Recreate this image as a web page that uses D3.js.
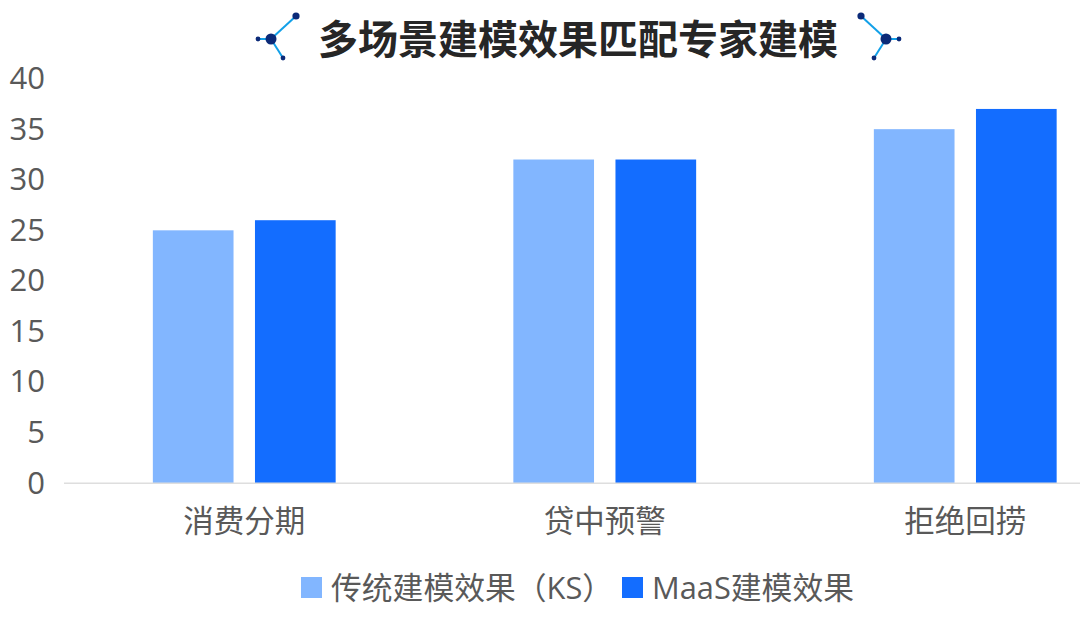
<!DOCTYPE html>
<html>
<head>
<meta charset="utf-8">
<script src="https://cdn.jsdelivr.net/npm/d3@7"></script>
<style>
  body { margin: 0; background: #fff; }
  text { font-family: "Open Sans", "Noto Sans CJK SC", sans-serif; }
</style>
</head>
<body>
<div id="chart"></div>
<script>
// data
const categories = ["消费分期", "贷中预警", "拒绝回捞"];
const seriesNames = ["传统建模效果（KS）", "MaaS建模效果"];
const traditional = [25, 32, 35];
const maas = [26, 32, 37];
const yTicks = [0, 5, 10, 15, 20, 25, 30, 35, 40];
const chartTitle = "多场景建模效果匹配专家建模";

const colors = ["#82b6ff", "#136dff"];
const textColor = "#595959";

const width = 1080,
  height = 622;

const svg = d3
  .select("#chart")
  .append("svg")
  .attr("width", width)
  .attr("height", height)
  .style("display", "block");

// scales
const x0 = d3.scaleBand().domain(categories).range([64, 1145.5]);
const x1 = d3
  .scaleBand()
  .domain(seriesNames)
  .range([0, x0.bandwidth()])
  .paddingInner(0.21)
  .paddingOuter(0.87);
const y = d3.scaleLinear().domain([0, 40]).range([483.2, 78.6]);

// bars
const values = [traditional, maas];
seriesNames.forEach((name, s) => {
  svg
    .append("g")
    .selectAll("rect")
    .data(categories)
    .enter()
    .append("rect")
    .attr("x", (d) => x0(d) + x1(name))
    .attr("y", (d, i) => y(values[s][i]))
    .attr("width", x1.bandwidth())
    .attr("height", (d, i) => y(0) - y(values[s][i]))
    .attr("fill", colors[s]);
});

// y axis
const yAxis = svg
  .append("g")
  .attr("transform", "translate(45,0)")
  .call(d3.axisLeft(y).tickValues(yTicks).tickSize(0).tickPadding(0));
yAxis.select(".domain").remove();
yAxis
  .selectAll("text")
  .attr("fill", textColor)
  .style("font-size", "31px");

// x axis
const xAxis = svg
  .append("g")
  .attr("transform", `translate(0,${y(0)})`)
  .call(d3.axisBottom(x0).tickSize(0).tickPadding(27));
xAxis.select(".domain").remove();
xAxis
  .selectAll("text")
  .attr("fill", textColor)
  .style("font-size", "30.5px");
svg
  .append("line")
  .attr("x1", 64)
  .attr("x2", width)
  .attr("y1", y(0))
  .attr("y2", y(0))
  .attr("stroke", "#dedede")
  .attr("stroke-width", 1.5);

// legend
const legendX = [301, 622];
const legend = svg
  .selectAll(".legend")
  .data(seriesNames)
  .enter()
  .append("g")
  .attr("class", "legend")
  .attr("transform", (d, i) => `translate(${legendX[i]},577)`);
legend
  .append("rect")
  .attr("width", 21)
  .attr("height", 21)
  .attr("fill", (d, i) => colors[i]);
legend
  .append("text")
  .attr("x", 30)
  .attr("y", 11)
  .attr("dy", "0.36em")
  .attr("fill", textColor)
  .style("font-size", "30.8px")
  .text((d) => d);

// title
svg
  .append("text")
  .attr("x", 578)
  .attr("y", 40)
  .attr("dy", "0.36em")
  .attr("text-anchor", "middle")
  .attr("fill", "#262626")
  .style("font-size", "40px")
  .style("font-weight", "700")
  .text(chartTitle);

// little network icons next to the title
function drawIcon(cx, cy, flip) {
  const g = svg.append("g").attr("transform", `translate(${cx},${cy}) scale(${flip},1)`);
  const ends = [
    [25, -23, 3.6],
    [-13, 0, 2.4],
    [12, 19, 2.4],
  ];
  ends.forEach((e) => {
    g.append("line")
      .attr("x1", 0)
      .attr("y1", 0)
      .attr("x2", e[0])
      .attr("y2", e[1])
      .attr("stroke", "#12a0e8")
      .attr("stroke-width", 2);
    g.append("circle").attr("cx", e[0]).attr("cy", e[1]).attr("r", e[2]).attr("fill", "#0b2a78");
  });
  g.append("circle").attr("r", 5.5).attr("fill", "#0b2a78");
}
drawIcon(271, 39, 1);
drawIcon(886, 39, -1);
</script>
</body>
</html>
